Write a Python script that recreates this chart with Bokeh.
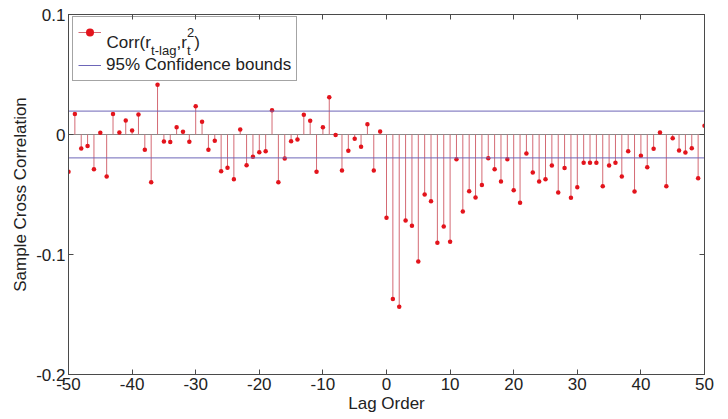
from bokeh.plotting import figure
from bokeh.models import (Range1d, LinearAxis, FixedTicker, Span, Legend,
                          LegendItem, Label, ColumnDataSource, CustomJSTickFormatter)
from bokeh.embed import file_html
from bokeh.resources import INLINE

# ---------------- data ----------------
lags = list(range(-50, 51))
xcorr = [
    -0.0310, 0.0170, -0.0117, -0.0095, -0.0290, 0.0014, -0.0350, 0.0170, 0.0017, 0.0117,
    0.0033, 0.0167, -0.0128, -0.0397, 0.0414, -0.0058, -0.0062, 0.0061, 0.0022, -0.0061,
    0.0236, 0.0106, -0.0128, -0.0053, -0.0306, -0.0278, -0.0372, 0.0042, -0.0256, -0.0186,
    -0.0147, -0.0139, 0.0203, -0.0397, -0.0200, -0.0056, -0.0042, 0.0164, 0.0114, -0.0311,
    0.0061, 0.0311, -0.0005, -0.0300, -0.0136, -0.0036, -0.0103, 0.0086, -0.0300, 0.0025,
    -0.0694, -0.1370, -0.1436, -0.0717, -0.0761, -0.1058, -0.0500, -0.0556, -0.0903, -0.0767,
    -0.0894, -0.0206, -0.0642, -0.0472, -0.0525, -0.0420, -0.0197, -0.0289, -0.0392, -0.0206,
    -0.0464, -0.0569, -0.0158, -0.0317, -0.0392, -0.0372, -0.0258, -0.0483, -0.0280, -0.0528,
    -0.0439, -0.0236, -0.0236, -0.0236, -0.0431, -0.0258, -0.0236, -0.0350, -0.0139, -0.0475,
    -0.0178, -0.0272, -0.0119, 0.0017, -0.0431, -0.0031, -0.0133, -0.0150, -0.0114, -0.0364,
    0.0072,
]
conf_bound = 0.0195
x_ticks = [-50, -40, -30, -20, -10, 0, 10, 20, 30, 40, 50]
x_tick_labels = ["-50", "-40", "-30", "-20", "-10", "0", "10", "20", "30", "40", "50"]
y_ticks = [0.1, 0, -0.1, -0.2]
y_tick_labels = ["0.1", "0", "-0.1", "-0.2"]
series_label_parts = ["Corr(r", "t-lag", ",r", "2", "t", ")"]
bounds_label = "95% Confidence bounds"

FONT = "Liberation Sans"
AX = "#4a4a4a"
TXT = "#222222"

p = figure(width=728, height=419, output_backend="svg", toolbar_location=None,
           x_range=Range1d(-50, 50), y_range=Range1d(-0.2, 0.1),
           min_border_left=68, min_border_right=24, min_border_top=14,
           min_border_bottom=45,
           x_axis_label="Lag Order", y_axis_label="Sample Cross Correlation")
p.grid.visible = False
p.outline_line_color = AX
p.background_fill_color = "white"
p.border_fill_color = "white"

FMT_CODE = """
const i = tvals.findIndex(t => Math.abs(t - tick) < 1e-9);
return i >= 0 ? tlabels[i] : '';
"""


def style_axis(ax, ticks, labels, show=True):
    ax.ticker = FixedTicker(ticks=ticks)
    ax.formatter = CustomJSTickFormatter(args=dict(tvals=ticks, tlabels=labels),
                                         code=FMT_CODE)
    ax.major_tick_in = 5
    ax.major_tick_out = 0
    ax.minor_tick_line_color = None
    ax.axis_line_color = AX
    ax.major_tick_line_color = AX
    ax.major_label_text_font = FONT
    ax.major_label_text_font_size = "17px" if show else "0px"
    ax.major_label_text_color = TXT
    ax.major_label_standoff = 3
    ax.axis_label_text_font = FONT
    ax.axis_label_text_font_size = "17px"
    ax.axis_label_text_font_style = "normal"
    ax.axis_label_text_color = TXT
    ax.axis_label_standoff = 3
    if not show:
        ax.major_label_text_alpha = 0


style_axis(p.xaxis[0], x_ticks, x_tick_labels)
style_axis(p.yaxis[0], y_ticks, y_tick_labels)
p.xaxis[0].axis_label_standoff = 1

top_ax = LinearAxis()
style_axis(top_ax, x_ticks, x_tick_labels, show=False)
p.add_layout(top_ax, "above")
right_ax = LinearAxis()
style_axis(right_ax, y_ticks, y_tick_labels, show=False)
p.add_layout(right_ax, "right")

src = ColumnDataSource(dict(lag=lags, val=xcorr, base=[0.0] * len(lags)))

p.add_layout(Span(location=0, dimension="width", line_color="#8a8a8a",
                  line_width=1, level="underlay"))

stems = p.segment(x0="lag", y0="base", x1="lag", y1="val", source=src,
                  line_color="#d46a74", line_width=1)
dots = p.scatter("lag", "val", source=src, size=4.5, fill_color="#e3141c",
                 line_color=None)
bounds = p.multi_line(xs=[[lags[0], lags[-1]], [lags[0], lags[-1]]],
                      ys=[[conf_bound, conf_bound], [-conf_bound, -conf_bound]],
                      line_color="#6d66b8", line_width=1)

legend = Legend(items=[LegendItem(label=" ", renderers=[stems, dots]),
                       LegendItem(label=bounds_label, renderers=[bounds])],
                location=(4, 293), padding=5, spacing=13, glyph_width=23,
                glyph_height=20, label_height=20, label_standoff=5, margin=0,
                label_text_font=FONT, label_text_font_size="17px",
                label_text_color=TXT, border_line_color=AX,
                background_fill_alpha=0)
p.add_layout(legend)


# first legend label with sub/superscripts (pixel -> data helpers)
def sx(px):
    return -50 + (px - 68) * 100.0 / 636.0


def sy(py):
    return 0.1 - (py - 14) * 0.3 / 360.0


B = 41.5
positions = [(106.0, B, "17px"), (150.6, B + 8, "13px"), (176.0, B, "17px"),
             (186.6, B - 9.5, "13px"), (186.6, B + 8, "13px"), (193.8, B, "17px")]
for txt, (px, py, fs) in zip(series_label_parts, positions):
    p.add_layout(Label(x=sx(px), y=sy(py), text=txt, text_font=FONT,
                       text_font_size=fs, text_color=TXT,
                       text_baseline="alphabetic", text_align="left"))

open("out.html", "w").write(file_html(p, INLINE))
